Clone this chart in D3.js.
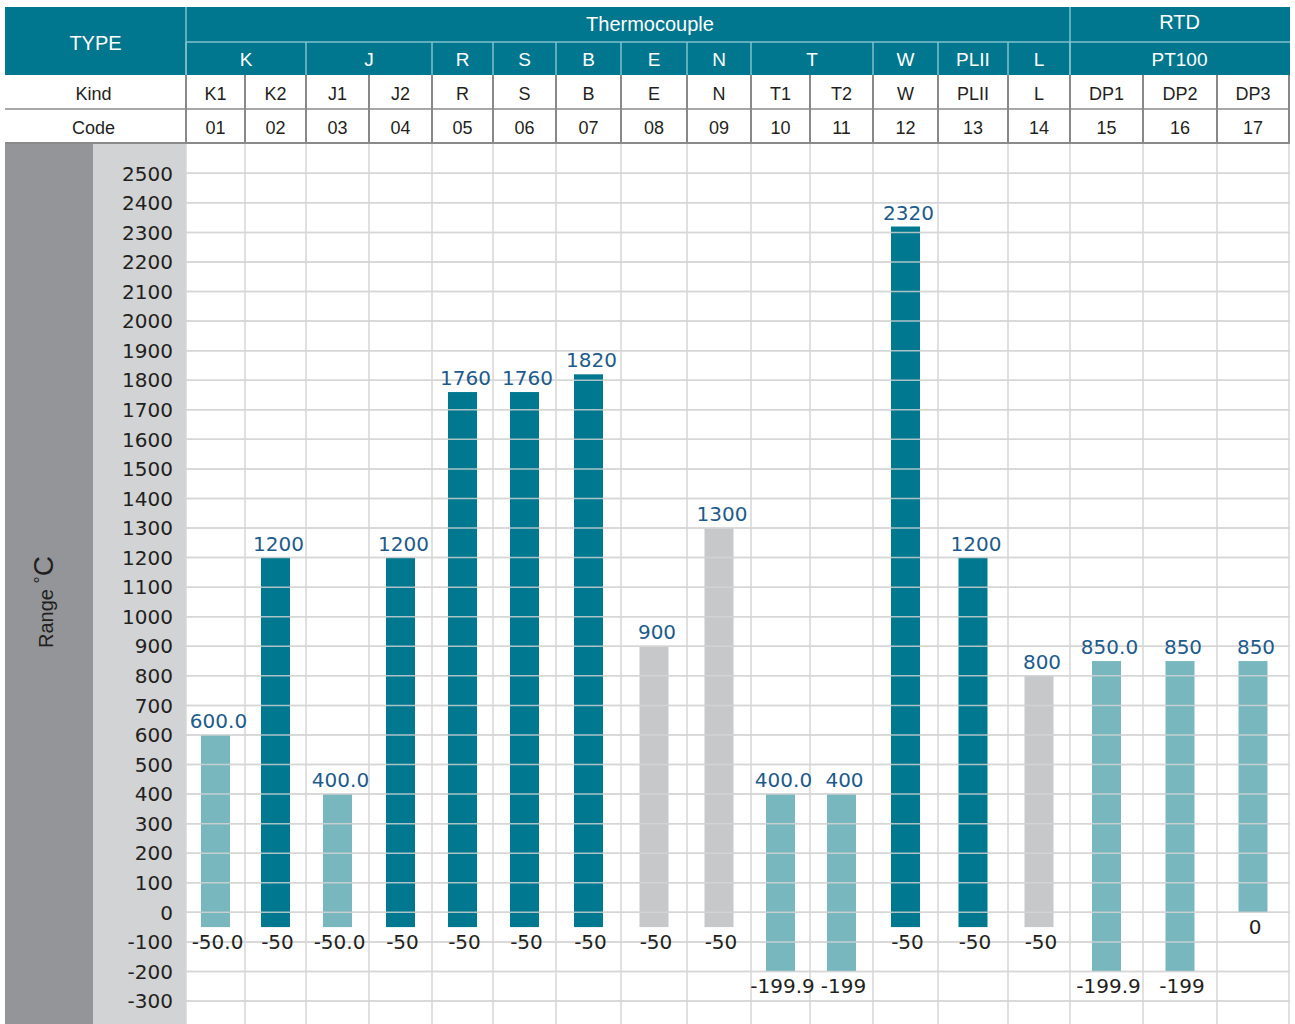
<!DOCTYPE html>
<html>
<head>
<meta charset="utf-8">
<script src="https://cdn.jsdelivr.net/npm/d3@7"></script>
<style>
  body { margin: 0; background: #fff; }
  svg text { font-family: "Liberation Sans", Arial, sans-serif; }
  svg text.num { font-family: "DejaVu Sans", sans-serif; }
</style>
</head>
<body>
<div id="chart"></div>
<script>

// ---- data ----
const kinds = ["K1","K2","J1","J2","R","S","B","E","N","T1","T2","W","PLII","L","DP1","DP2","DP3"];
const codes = ["01","02","03","04","05","06","07","08","09","10","11","12","13","14","15","16","17"];
const families = ["K","K","J","J","R","S","B","E","N","T","T","W","PLII","L","PT100","PT100","PT100"];
const sensorTypes = ["Thermocouple","Thermocouple","Thermocouple","Thermocouple","Thermocouple","Thermocouple","Thermocouple",
                     "Thermocouple","Thermocouple","Thermocouple","Thermocouple","Thermocouple","Thermocouple","Thermocouple",
                     "RTD","RTD","RTD"];
const rangeMax = [600,1200,400,1200,1760,1760,1820,900,1300,400,400,2320,1200,800,850,850,850];
const rangeMin = [-50,-50,-50,-50,-50,-50,-50,-50,-50,-199.9,-199,-50,-50,-50,-199.9,-199,0];
const maxLabels = ["600.0","1200","400.0","1200","1760","1760","1820","900","1300","400.0","400","2320","1200","800","850.0","850","850"];
const minLabels = ["-50.0","-50","-50.0","-50","-50","-50","-50","-50","-50","-199.9","-199","-50","-50","-50","-199.9","-199","0"];
const barTone = ["light","dark","light","dark","dark","dark","dark","grey","grey","light","light","dark","dark","grey","light","light","light"];
const yTicks = d3.range(-300, 2501, 100);

// ---- layout ----
var W = 1295, H = 1024;
var left = 5, right = 1290;
var plotLeft = 186;
var colWidths = [59,61,63,63,61,63,65,66,64,59,63,65,70,62,73,74,72]; // table column widths
var rowTop = 7, rowMid = 42, rowHead = 75, rowKind = 109, rowCode = 143;
var teal = "#00778f";

var edges = [plotLeft];
colWidths.forEach(function(w, i) { edges.push(edges[i] + w); });

// piecewise scale: column index -> x
var x = d3.scaleLinear().domain(d3.range(kinds.length + 1)).range(edges);
var y = d3.scaleLinear().domain([-300, 2500]).range([1001, 173.3]);
var tone = d3.scaleOrdinal().domain(["light","dark","grey"]).range(["#79b7bf", "#00788f", "#c7c8ca"]);

var svg = d3.select("#chart").append("svg")
    .attr("width", W)
    .attr("height", H);

// left panels
svg.append("rect").attr("x", left).attr("y", rowCode).attr("width", 93 - left).attr("height", H - rowCode).attr("fill", "#939598");
svg.append("rect").attr("x", 93).attr("y", rowCode).attr("width", plotLeft - 93).attr("height", H - rowCode).attr("fill", "#d1d3d4");

// grid
var grid = svg.append("g");
grid.selectAll("line.h")
    .data(yTicks)
    .enter()
    .append("line")
    .attr("x1", plotLeft).attr("x2", right)
    .attr("y1", function(d) { return y(d); })
    .attr("y2", function(d) { return y(d); })
    .attr("stroke", "#d6d6d6").attr("stroke-width", 1.5);
grid.selectAll("line.v")
    .data(edges)
    .enter()
    .append("line")
    .attr("x1", function(d) { return d; }).attr("x2", function(d) { return d; })
    .attr("y1", rowCode).attr("y2", H)
    .attr("stroke", "#d6d6d6").attr("stroke-width", 1.5);

// y tick labels
svg.selectAll("text.ytick")
    .data(yTicks)
    .enter()
    .append("text")
    .attr("class", "num")
    .text(function(d) { return d; })
    .attr("x", 173)
    .attr("y", function(d) { return y(d); })
    .attr("dy", "0.36em")
    .attr("text-anchor", "end")
    .attr("font-size", "20px")
    .attr("fill", "#231f20");

// axis title
var title = svg.append("text")
    .attr("transform", "translate(53,602) rotate(-90)")
    .attr("text-anchor", "middle")
    .attr("font-size", "20px")
    .attr("fill", "#231f20");
title.append("tspan").text("Range ");
title.append("tspan").text("°").attr("font-size", "18px").attr("dy", "-6");
title.append("tspan").text("C").attr("font-size", "28px").attr("dy", "6");

// bars
var bw = 29;
svg.selectAll("rect.bar")
    .data(kinds)
    .enter()
    .append("rect")
    .attr("class", "bar")
    .attr("x", function(d, i) { return x(i + 0.5) - bw / 2; })
    .attr("y", function(d, i) { return y(rangeMax[i]); })
    .attr("width", bw)
    .attr("height", function(d, i) { return y(rangeMin[i]) - y(rangeMax[i]); })
    .attr("fill", function(d, i) { return tone(barTone[i]); });

// bars are crossed by the grid lines
svg.append("g").selectAll("line")
    .data(yTicks)
    .enter()
    .append("line")
    .attr("x1", plotLeft).attr("x2", right)
    .attr("y1", function(d) { return y(d); })
    .attr("y2", function(d) { return y(d); })
    .attr("stroke", "#d6d6d6").attr("stroke-width", 1.5).attr("opacity", 0.8);

// value labels
svg.selectAll("text.max")
    .data(maxLabels)
    .enter()
    .append("text")
    .attr("class", "num")
    .text(function(d) { return d; })
    .attr("x", function(d, i) { return x(i + 0.5) + 3; })
    .attr("y", function(d, i) { return y(rangeMax[i]) - 7; })
    .attr("text-anchor", "middle")
    .attr("font-size", "20px")
    .attr("fill", "#1d5b8c");

svg.selectAll("text.min")
    .data(minLabels)
    .enter()
    .append("text")
    .attr("class", "num")
    .text(function(d) { return d; })
    .attr("x", function(d, i) { return x(i + 0.5) + 2; })
    .attr("y", function(d, i) { return y(rangeMin[i]) + 22; })
    .attr("text-anchor", "middle")
    .attr("font-size", "20px")
    .attr("fill", "#231f20");

// ---- header table ----
svg.append("rect").attr("x", left).attr("y", rowTop).attr("width", right - left).attr("height", rowHead - rowTop).attr("fill", teal);

// runs of equal neighbours -> spans
function spans(arr) {
    var out = [];
    arr.forEach(function(v, i) {
        if (i > 0 && arr[i - 1] === v) out[out.length - 1].end = i + 1;
        else out.push({ name: v, start: i, end: i + 1 });
    });
    return out;
}
var typeSpans = spans(sensorTypes);
var famSpans = spans(families);
var lineTeal = "#7fc0cd";

svg.append("line").attr("x1", plotLeft).attr("x2", right).attr("y1", rowMid).attr("y2", rowMid)
    .attr("stroke", lineTeal).attr("stroke-width", 1.5);

svg.selectAll("line.tsep")
    .data(typeSpans)
    .enter()
    .append("line")
    .attr("x1", function(d) { return x(d.start); }).attr("x2", function(d) { return x(d.start); })
    .attr("y1", rowTop).attr("y2", rowHead)
    .attr("stroke", lineTeal).attr("stroke-width", 1.5);

svg.selectAll("line.fsep")
    .data(famSpans)
    .enter()
    .append("line")
    .attr("x1", function(d) { return x(d.start); }).attr("x2", function(d) { return x(d.start); })
    .attr("y1", rowMid).attr("y2", rowHead)
    .attr("stroke", lineTeal).attr("stroke-width", 1.5);

svg.append("text").text("TYPE")
    .attr("x", (left + plotLeft) / 2).attr("y", 43).attr("dy", "0.35em")
    .attr("text-anchor", "middle").attr("font-size", "20px").attr("fill", "#fff");

svg.selectAll("text.type")
    .data(typeSpans)
    .enter()
    .append("text")
    .text(function(d) { return d.name; })
    .attr("x", function(d) { return (x(d.start) + x(d.end)) / 2 + (d.name === "RTD" ? 0 : 22); })
    .attr("y", function(d) { return d.name === "RTD" ? 22 : 24; })
    .attr("dy", "0.35em")
    .attr("text-anchor", "middle").attr("font-size", "20px").attr("fill", "#fff");

svg.selectAll("text.fam")
    .data(famSpans)
    .enter()
    .append("text")
    .text(function(d) { return d.name; })
    .attr("x", function(d) { return (x(d.start) + x(d.end)) / 2; })
    .attr("y", 59)
    .attr("dy", "0.35em")
    .attr("text-anchor", "middle").attr("font-size", "19px").attr("fill", "#fff");

// Kind / Code rows
var rows = [
    { label: "Kind", vals: kinds, y0: rowHead, y1: rowKind },
    { label: "Code", vals: codes, y0: rowKind, y1: rowCode }
];
rows.forEach(function(r) {
    var mid = (r.y0 + r.y1) / 2 + 2;
    svg.append("text").text(r.label)
        .attr("x", (left + plotLeft) / 2 - 2).attr("y", mid).attr("dy", "0.35em")
        .attr("text-anchor", "middle").attr("font-size", "18px").attr("fill", "#231f20");
    svg.append("g").selectAll("text")
        .data(r.vals)
        .enter()
        .append("text")
        .text(function(d) { return d; })
        .attr("x", function(d, i) { return x(i + 0.5); })
        .attr("y", mid).attr("dy", "0.35em")
        .attr("text-anchor", "middle").attr("font-size", "18px").attr("fill", "#231f20");
});

svg.selectAll("line.cell")
    .data(edges)
    .enter()
    .append("line")
    .attr("x1", function(d) { return d; }).attr("x2", function(d) { return d; })
    .attr("y1", rowHead).attr("y2", rowCode)
    .attr("stroke", "#3a3a3a").attr("stroke-width", 1.2);

svg.append("line").attr("x1", left).attr("x2", right).attr("y1", rowKind).attr("y2", rowKind)
    .attr("stroke", "#8a8a8a").attr("stroke-width", 1.5);
svg.append("line").attr("x1", left).attr("x2", right).attr("y1", rowCode).attr("y2", rowCode)
    .attr("stroke", "#8a8a8a").attr("stroke-width", 2);

</script>
</body>
</html>
